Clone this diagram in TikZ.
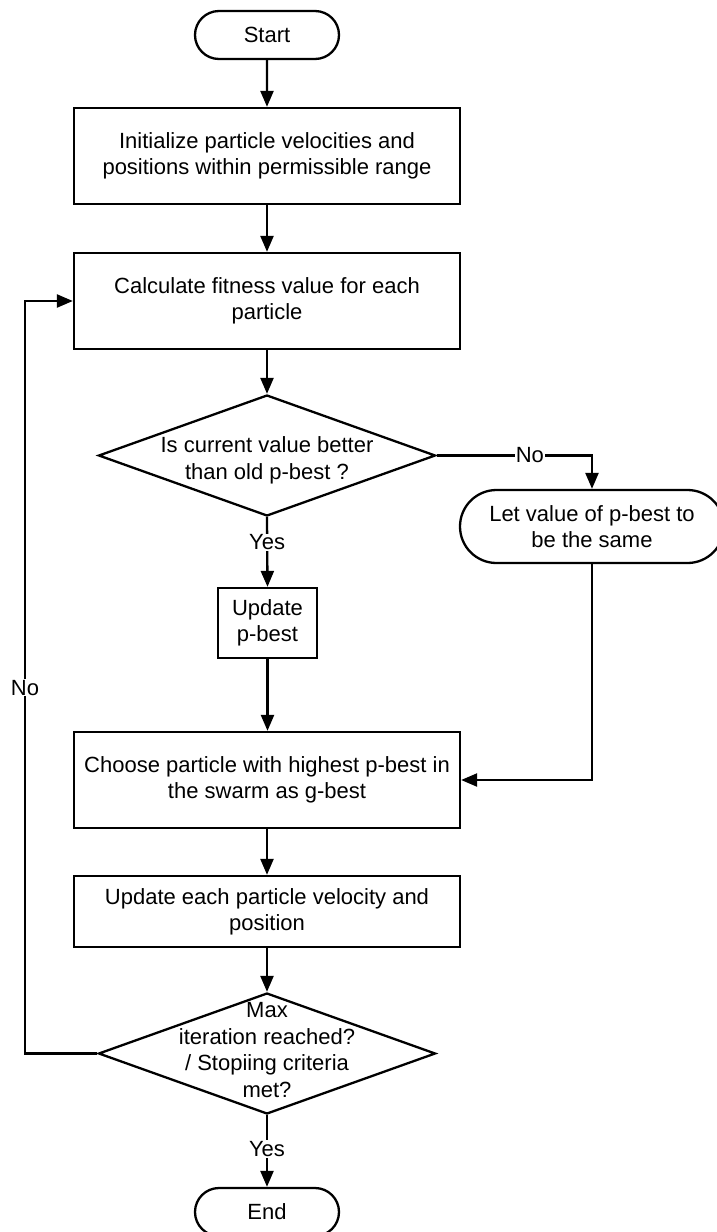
\documentclass[tikz,border=0pt]{standalone}
\usepackage{fontspec}
\setmainfont{Liberation Sans}
\usetikzlibrary{shapes.misc,shapes.geometric,arrows.meta}

\tikzset{
  base/.style={draw=black, line width=2.3pt, inner sep=0pt, align=center,
    font=\fontsize{22}{26}\selectfont},
  procbox/.style={base, rectangle},
  termbox/.style={base, rounded rectangle},
  decision/.style={draw=black, line width=2.3pt, diamond, inner sep=0pt},
  dtext/.style={align=center, inner sep=0pt, font=\fontsize{22}{26.7}\selectfont},
  flow/.style={line width=2.3pt, -{Triangle[length=16pt,width=13pt]}},
  lbl/.style={fill=white, inner sep=1pt, font=\fontsize{22}{26}\selectfont},
}

\begin{document}
\begin{tikzpicture}[x=1pt,y=-1pt]
  \useasboundingbox (0,0) rectangle (717,1232);

  % main column
  \node[termbox, minimum width=144pt, minimum height=48pt] (start) at (267,35) {Start};
  \node[procbox, minimum width=386pt, minimum height=96pt] (init) at (267,156)
    {Initialize particle velocities and\\positions within permissible range};
  \node[procbox, minimum width=386pt, minimum height=96pt] (fit) at (267,301)
    {Calculate fitness value for each\\particle};
  \node[decision, minimum width=337pt, minimum height=121pt] (d1) at (267,455.5) {};
  \node[dtext] (d1t) at (267,460) {Is current value better\\than old p-best ?};
  \node[procbox, minimum width=99pt, minimum height=70pt] (upd) at (267.5,623)
    {Update\\p-best};
  \node[termbox, minimum width=264pt, minimum height=73pt] (keep) at (592,526.5)
    {Let value of p-best to\\be the same};
  \node[procbox, minimum width=386pt, minimum height=96pt] (gbest) at (267,780)
    {Choose particle with highest p-best in\\the swarm as g-best};
  \node[procbox, minimum width=386pt, minimum height=71pt] (move) at (267,911.5)
    {Update each particle velocity and\\position};
  \node[decision, minimum width=337pt, minimum height=121pt] (d2) at (267,1053.5) {};
  \node[dtext] (d2t) at (267,1050)
    {Max\\iteration reached?\\/ Stopiing criteria\\met?};
  \node[termbox, minimum width=144pt, minimum height=48pt] (stop) at (267,1212) {End};

  \coordinate (loop) at (25,1053.5);

  % connectors
  \draw[flow] (start) -- (init);
  \draw[flow] (init) -- (fit);
  \draw[flow] (fit) -- (d1);
  \draw[flow] (d1.south) -- node[lbl, pos=0.36] {Yes} (upd.north);
  \draw[flow] (d1.east) -| node[lbl, pos=0.30] {No} (keep.north);
  \draw[flow] (keep.south) |- (gbest.east);
  \draw[flow] (upd.south) -- (upd.south |- gbest.north);
  \draw[flow] (gbest) -- (move);
  \draw[flow] (move) -- (d2);
  \draw[flow] (d2.south) -- node[lbl, pos=0.47] {Yes} (stop.north);
  \draw[flow] (d2.west) -- (loop) |- node[lbl, pos=0.243] {No} (fit.west);
\end{tikzpicture}
\end{document}
